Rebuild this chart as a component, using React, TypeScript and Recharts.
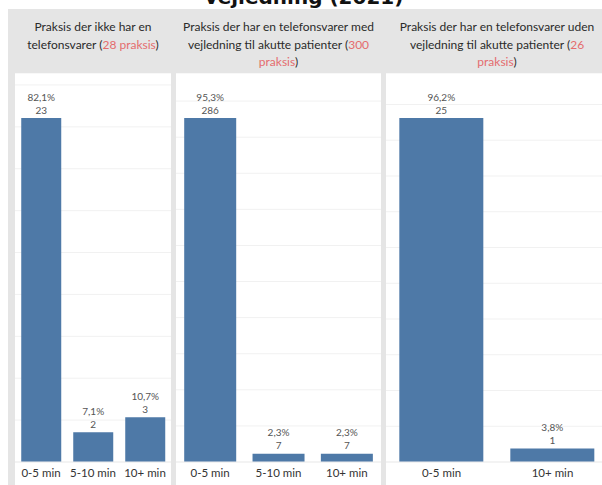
import React from "react";
import { BarChart, Bar, XAxis, YAxis, CartesianGrid, LabelList } from "recharts";

// panel 1: praksis uden telefonsvarer
const categories1 = ["0-5 min", "5-10 min", "10+ min"];
const pct1 = [82.1, 7.1, 10.7];
const count1 = [23, 2, 3];
const ticks1 = [0, 10, 20, 30, 40, 50, 60, 70, 80, 90];

// panel 2: telefonsvarer med vejledning
const categories2 = ["0-5 min", "5-10 min", "10+ min"];
const pct2 = [95.3, 2.3, 2.3];
const count2 = [286, 7, 7];
const ticks2 = [0, 10, 20, 30, 40, 50, 60, 70, 80, 90, 100];

// panel 3: telefonsvarer uden vejledning
const categories3 = ["0-5 min", "10+ min"];
const pct3 = [96.2, 3.8];
const count3 = [25, 1];
const ticks3 = [0, 10, 20, 30, 40, 50, 60, 70, 80, 90, 100];

const FONT = "Lato, 'Noto Sans', sans-serif";
const BLUE = "#4e79a7";
const RED = "#e46c6e";

const fmtPct = (v: number) => v.toFixed(1).replace(".", ",") + "%";

type PanelProps = {
  left: number;
  width: number;
  header: React.ReactNode;
  categories: string[];
  pct: number[];
  count: number[];
  ticks: number[];
};

function Panel({ left, width, header, categories, pct, count, ticks }: PanelProps) {
  const rows = categories.map((c, i) => ({ cat: c, pct: pct[i], count: count[i] }));

  const renderLabel = (p: any) => {
    const { x, y, width: w, index } = p;
    const cx = x + w / 2;
    return (
      <g>
        <text x={cx} y={y - 17.5} textAnchor="middle" fontSize={10} fill="#555" fontFamily={FONT}>
          {fmtPct(rows[index].pct)}
        </text>
        <text x={cx} y={y - 4.5} textAnchor="middle" fontSize={10} fill="#555" fontFamily={FONT}>
          {rows[index].count}
        </text>
      </g>
    );
  };

  const renderTick = (p: any) => (
    <text x={p.x} y={p.y + 15} textAnchor="middle" fontSize={11.5} fill="#333" fontFamily={FONT}>
      {p.payload.value}
    </text>
  );

  return (
    <>
      <div
        style={{
          position: "absolute",
          left,
          top: 18,
          width,
          textAlign: "center",
          fontFamily: FONT,
          fontSize: 12,
          lineHeight: "17.5px",
          color: "#2a2a2a",
          whiteSpace: "nowrap",
        }}
      >
        {header}
      </div>
      <div style={{ position: "absolute", left, top: 73, width, height: 412, background: "#fff" }}>
        <BarChart
          width={width}
          height={412}
          data={rows}
          margin={{ top: 0, right: 0, bottom: 0, left: 0 }}
          barCategoryGap="12%"
        >
          <CartesianGrid vertical={false} stroke="#f1f1f1" />
          <XAxis
            dataKey="cat"
            height={23}
            tickLine={false}
            axisLine={{ stroke: "#eeeeee" }}
            tickSize={0}
            tickMargin={0}
            tick={renderTick}
            interval={0}
          />
          <YAxis hide domain={[0, (max: number) => max * 1.131]} ticks={ticks} />
          <Bar dataKey="pct" fill={BLUE} isAnimationActive={false}>
            <LabelList dataKey="pct" content={renderLabel} />
          </Bar>
        </BarChart>
      </div>
    </>
  );
}

const Red = ({ children }: { children: React.ReactNode }) => <span style={{ color: RED }}>{children}</span>;

export default function App() {
  return (
    <div
      style={{
        position: "absolute",
        left: 0,
        top: 0,
        width: 602,
        height: 485,
        overflow: "hidden",
        background: "#fff",
      }}
    >
      <div
        style={{
          position: "absolute",
          left: 0,
          width: 608,
          top: -13,
          textAlign: "center",
          fontFamily: "'DejaVu Sans', sans-serif",
          fontWeight: "bold",
          fontSize: 20,
          lineHeight: "20px",
          color: "#111",
        }}
      >
        vejledning (2021)
      </div>
      <div style={{ position: "absolute", left: 8, top: 9, width: 600, height: 476, background: "#e5e5e5" }} />
      <Panel
        left={15}
        width={156}
        categories={categories1}
        pct={pct1}
        count={count1}
        ticks={ticks1}
        header={
          <>
            Praksis der ikke har en
            <br />
            telefonsvarer (<Red>28 praksis</Red>)
          </>
        }
      />
      <Panel
        left={176}
        width={205}
        categories={categories2}
        pct={pct2}
        count={count2}
        ticks={ticks2}
        header={
          <>
            Praksis der har en telefonsvarer med
            <br />
            vejledning til akutte patienter (<Red>300</Red>
            <br />
            <Red>praksis</Red>)
          </>
        }
      />
      <Panel
        left={386}
        width={222}
        categories={categories3}
        pct={pct3}
        count={count3}
        ticks={ticks3}
        header={
          <>
            Praksis der har en telefonsvarer uden
            <br />
            vejledning til akutte patienter (<Red>26</Red>
            <br />
            <Red>praksis</Red>)
          </>
        }
      />
    </div>
  );
}
